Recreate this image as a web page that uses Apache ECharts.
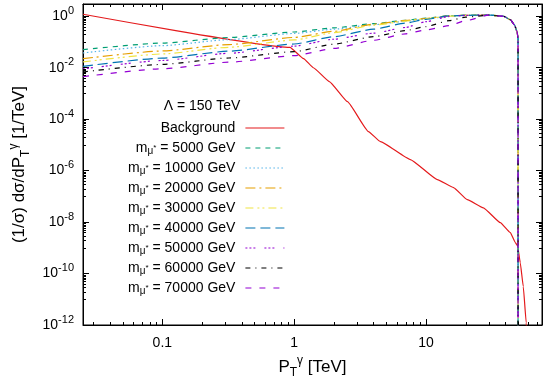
<!DOCTYPE html>
<html><head><meta charset="utf-8">
<script src="https://cdn.jsdelivr.net/npm/echarts@6/dist/echarts.min.js"></script>
<style>html,body{margin:0;padding:0;background:#fff}#c{width:543px;height:379px}</style>
</head><body><div id="c"></div>
<script>
const FONT = 'Liberation Sans, Arial, sans-serif';

// ---- data ----
const xTickLabels = ['0.1', '1', '10'];
const yTickExponents = [-12, -10, -8, -6, -4, -2, 0];

const bgX = [0.025, 0.93, 1.18, 1.40, 1.85, 2.54, 3.66, 4.52, 7.62, 12.2, 16.2, 20.6, 27.3, 36.7, 43.7, 47.7, 49.6, 52.0, 54.8, 57.7, 59];
const bgY = [1.2, 0.062, 0.0225, 0.01, 2.9e-3, 4.8e-4, 3.3e-5, 1.34e-5, 2.7e-6, 4.5e-7, 2.2e-7, 7.5e-8, 3.6e-8, 9.5e-9, 3.9e-9, 1.6e-9, 1.2e-9, 2.6e-10, 3.1e-11, 1.2e-12, 1e-13];

const sigX = [0.025, 0.1, 0.32, 1, 2, 4, 7, 10, 15, 20, 30, 38.9, 43.7, 46.9, 49.1, 50, 50.01];
const s5000  = [0.0503, 0.0908, 0.150, 0.245, 0.354, 0.515, 0.70, 0.844, 1.04, 1.10, 1.13, 1.0, 0.74, 0.47, 0.26, 0.14, 1e-14];
const s10000 = [0.0375, 0.072, 0.124, 0.215, 0.315, 0.468, 0.64, 0.785, 1.01, 1.09, 1.13, 1.0, 0.74, 0.47, 0.26, 0.14, 1e-14];
const s20000 = [0.0225, 0.0448, 0.0794, 0.15, 0.26, 0.493, 0.687, 0.821, 1.04, 1.09, 1.12, 1.0, 0.74, 0.47, 0.26, 0.14, 1e-14];
const s30000 = [0.01675, 0.0343, 0.0624, 0.12, 0.23, 0.451, 0.645, 0.807, 1.01, 1.09, 1.12, 1.0, 0.74, 0.47, 0.26, 0.14, 1e-14];
const s40000 = [0.0113, 0.0237, 0.044, 0.0838, 0.161, 0.315, 0.54, 0.758, 1.03, 1.09, 1.12, 1.0, 0.74, 0.47, 0.26, 0.14, 1e-14];
const s50000 = [0.00895, 0.0191, 0.0365, 0.0689, 0.129, 0.220, 0.367, 0.617, 0.982, 1.08, 1.12, 1.0, 0.74, 0.47, 0.26, 0.14, 1e-14];
const s60000 = [0.00684, 0.0135, 0.0239, 0.0421, 0.0824, 0.161, 0.278, 0.398, 0.675, 0.923, 1.10, 1.0, 0.74, 0.47, 0.26, 0.14, 1e-14];
const s70000 = [0.0045, 0.00912, 0.0164, 0.0294, 0.0561, 0.117, 0.207, 0.296, 0.431, 0.675, 1.10, 1.0, 0.74, 0.47, 0.26, 0.14, 1e-14];

const sigNames = ['m_μ* = 5000 GeV', 'm_μ* = 10000 GeV', 'm_μ* = 20000 GeV', 'm_μ* = 30000 GeV',
                  'm_μ* = 40000 GeV', 'm_μ* = 50000 GeV', 'm_μ* = 60000 GeV', 'm_μ* = 70000 GeV'];
const sigValues = [s5000, s10000, s20000, s30000, s40000, s50000, s60000, s70000];
const sigColors = ['#009e73', '#56b4e9', '#e69f00', '#f0e442', '#0072b2', '#9400d3', '#000000', '#9400d3'];
const sigDashes = [[5, 5], [1.5, 2.5], [10, 4, 2, 4], [8, 4, 2, 3, 2, 4], [10, 5], [2, 2, 2, 2, 2, 9], [5, 5, 1, 5], [6, 8]];

const xMinor = [0.03,0.04,0.05,0.06,0.07,0.08,0.09,0.2,0.3,0.4,0.5,0.6,0.7,0.8,0.9,2,3,4,5,6,7,8,9,20,30,40,50,60,70];
const yMinorMantissa = [10,20,30,40,50,60,70,80,90];
const yMinorBase = [1e-12,1e-10,1e-8,1e-6,1e-4,1e-2];
const yMinor = [];
yMinorBase.forEach(b => yMinorMantissa.forEach(m => yMinor.push(b * m)));

// ---- chart ----
const chart = echarts.init(document.getElementById('c'), null, {renderer: 'canvas'});

function isPow10(v) { const e = Math.log10(v); return Math.abs(e - Math.round(e)) < 1e-6; }

const xLabelFmt = v => {
  if (!isPow10(v)) return '';
  const i = Math.round(Math.log10(v)) + 1;
  return xTickLabels[i] || '';
};
const yLabelFmt = v => {
  if (!isPow10(v)) return '';
  const e = Math.round(Math.log10(v));
  if (yTickExponents.indexOf(e) < 0) return '';
  return '{b|10}{s|' + e + '}';
};

const axisBase = {
  type: 'log', logBase: 10,
  axisLine: {show: true, lineStyle: {color: '#000', width: 1}},
  axisTick: {show: true, inside: true, length: 6, lineStyle: {color: '#000'}},
  splitLine: {show: false},
  minorTick: {show: false}
};

const series = [];
series.push({
  name: 'Background', type: 'line', xAxisIndex: 0, yAxisIndex: 0,
  data: bgX.map((x, i) => [x, bgY[i]]),
  symbol: 'none', smooth: 0.12, smoothMonotone: 'x', clip: true,
  lineStyle: {color: '#e41a1c', width: 1.2}, itemStyle: {color: '#e41a1c'}, z: 3
});
sigValues.forEach((arr, k) => {
  series.push({
    name: sigNames[k], type: 'line', xAxisIndex: 0, yAxisIndex: 0,
    data: sigX.map((x, i) => [x, arr[i]]),
    symbol: 'none', smooth: 0.2, smoothMonotone: 'x', clip: true,
    lineStyle: {color: sigColors[k], width: 1.2, type: sigDashes[k]},
    itemStyle: {color: sigColors[k]}, z: 3
  });
});
const tickStyle = {stroke: '#000', lineWidth: 1};
series.push({
  type: 'custom', xAxisIndex: 0, yAxisIndex: 0, silent: true, z: 5,
  data: xMinor.map(v => [v, 1]),
  renderItem: (params, api) => {
    const cs = params.coordSys;
    const x = Math.round(api.coord([api.value(0), 1])[0]) + 0.5;
    const b = cs.y + cs.height, t = cs.y;
    return {type: 'group', children: [
      {type: 'line', shape: {x1: x, y1: b, x2: x, y2: b - 3}, style: tickStyle},
      {type: 'line', shape: {x1: x, y1: t, x2: x, y2: t + 3}, style: tickStyle}
    ]};
  }
});
series.push({
  type: 'custom', xAxisIndex: 0, yAxisIndex: 0, silent: true, z: 5,
  data: yMinor.map(v => [1, v]),
  renderItem: (params, api) => {
    const cs = params.coordSys;
    const y = Math.round(api.coord([1, api.value(1)])[1]) + 0.5;
    const l = cs.x, r = cs.x + cs.width;
    return {type: 'group', children: [
      {type: 'line', shape: {x1: l, y1: y, x2: l + 3, y2: y}, style: tickStyle},
      {type: 'line', shape: {x1: r, y1: y, x2: r - 3, y2: y}, style: tickStyle}
    ]};
  }
});

const richTitle = {
  sub: {fontSize: 12, lineHeight: 12, verticalAlign: 'bottom', fontFamily: FONT, color: '#000'},
  sup: {fontSize: 12, lineHeight: 12, verticalAlign: 'top', fontFamily: FONT, color: '#000'}
};

const option = {
  animation: false,
  backgroundColor: '#fff',
  textStyle: {fontFamily: FONT},
  grid: {left: 83, right: 1, top: 4, bottom: 54, show: true, borderColor: '#000', borderWidth: 1,
         containLabel: false, outerBoundsMode: 'none'},
  xAxis: [
    Object.assign({}, axisBase, {
      position: 'bottom', min: 0.025, max: 76, splitNumber: 3,
      axisLabel: {show: true, formatter: xLabelFmt, color: '#000', fontSize: 14, fontFamily: FONT, margin: 11},
      name: 'P{sub|T}{sup|γ} [TeV]', nameLocation: 'middle', nameGap: 24,
      nameTextStyle: {fontSize: 17, lineHeight: 24, fontFamily: FONT, color: '#000', rich: richTitle}
    }),
    Object.assign({}, axisBase, {
      position: 'top', min: 0.025, max: 76, splitNumber: 3, axisLabel: {show: false}
    })
  ],
  yAxis: [
    Object.assign({}, axisBase, {
      position: 'left', min: 1e-12, max: 3, interval: 2,
      axisLabel: {show: true, formatter: yLabelFmt, margin: 9, color: '#000',
        rich: {
          b: {fontSize: 14, lineHeight: 22, fontFamily: FONT, color: '#000'},
          s: {fontSize: 11, lineHeight: 11, verticalAlign: 'top', fontFamily: FONT, color: '#000'}
        }},
      name: '(1/σ) dσ/dP{sub|T}{sup|γ} [1/TeV]', nameLocation: 'middle', nameGap: 41, nameRotate: 90,
      nameTextStyle: {fontSize: 17, lineHeight: 24, fontFamily: FONT, color: '#000', rich: richTitle}
    }),
    Object.assign({}, axisBase, {
      position: 'right', min: 1e-12, max: 3, interval: 2, axisLabel: {show: false}
    })
  ],
  legend: {
    show: true, orient: 'vertical', right: 258, top: 120, padding: 0,
    align: 'right', itemWidth: 39, itemHeight: 16, itemGap: 4,
    data: ['Background'].concat(sigNames),
    itemStyle: {opacity: 0},
    lineStyle: {width: 1.2},
    formatter: name => name.replace('m_μ*', 'm{u|μ}{t|*}'),
    textStyle: {fontSize: 14, lineHeight: 16, fontFamily: FONT, color: '#000', padding: [0, 5, 0, 0],
      rich: {
        u: {fontSize: 10, lineHeight: 10, verticalAlign: 'bottom', fontFamily: FONT, color: '#000'},
        t: {fontSize: 8, lineHeight: 16, verticalAlign: 'middle', fontFamily: FONT, color: '#000'}
      }},
    selectedMode: false
  },
  graphic: [{
    type: 'text', x: 202, y: 106, silent: true,
    style: {text: 'Λ = 150 TeV', font: '14px ' + FONT, fill: '#000', align: 'center', verticalAlign: 'middle',
            textAlign: 'center', textVerticalAlign: 'middle'}
  }],
  series: series
};
chart.setOption(option);
</script>
</body></html>
